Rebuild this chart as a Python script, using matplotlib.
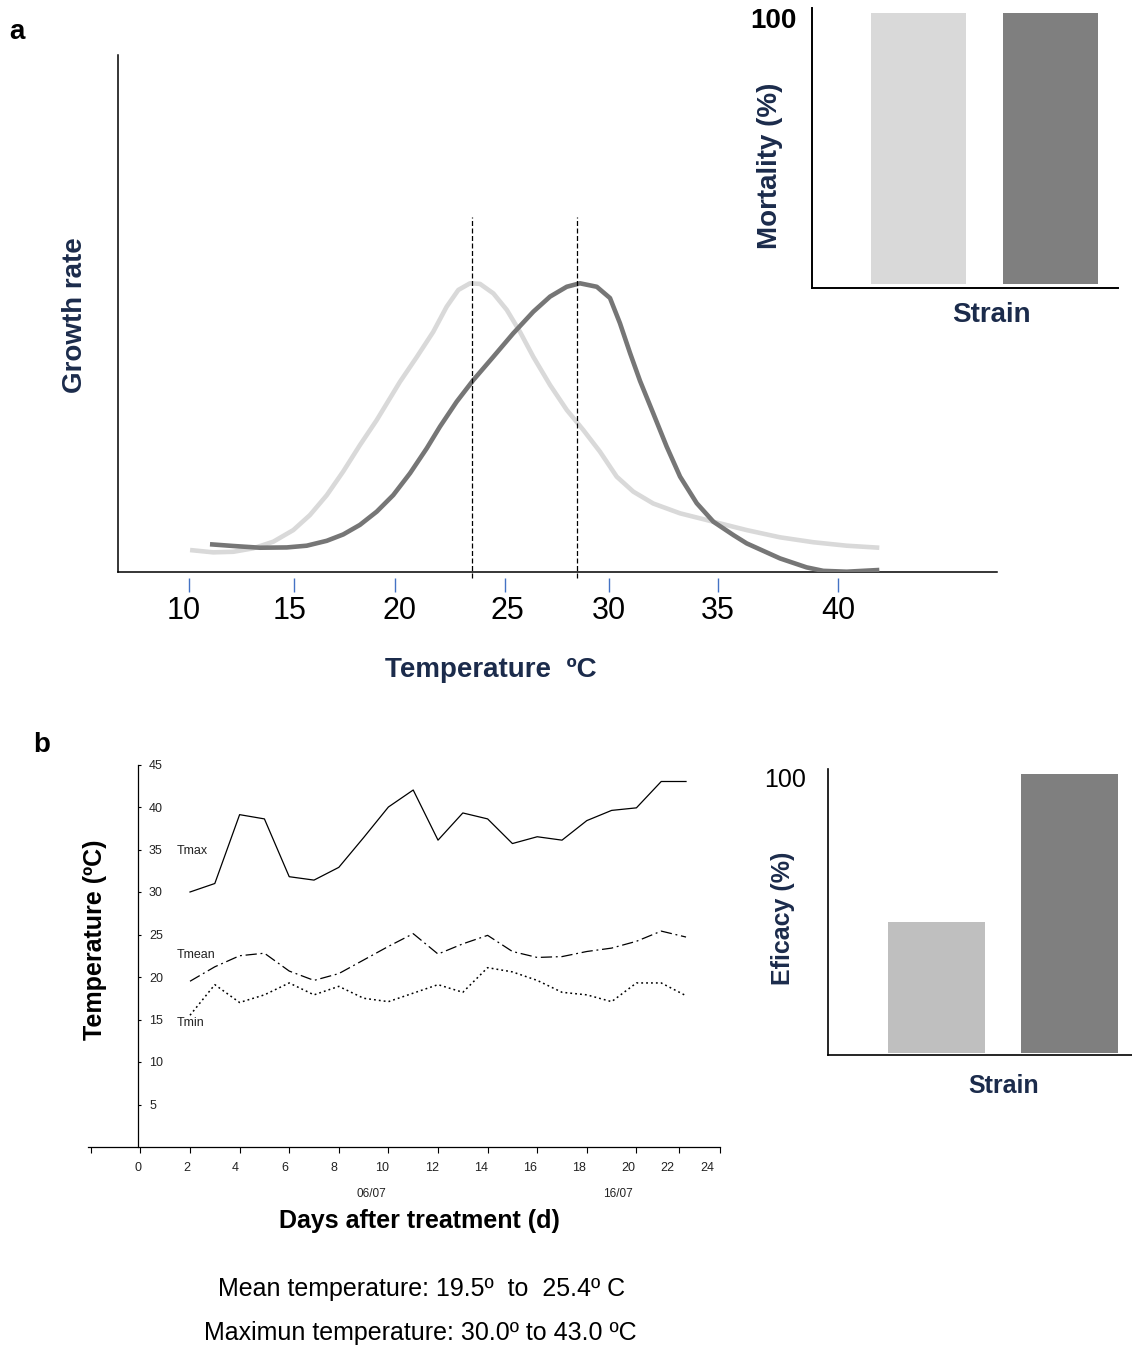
import matplotlib
matplotlib.use('Agg')
import matplotlib.pyplot as plt
import matplotlib.transforms as mtransforms

W, H = 1132, 1346
NAVY = '#1b2b4b'
plt.rcParams['font.family'] = ['Liberation Sans', 'DejaVu Sans']

# ---------------- Panel a: growth rate vs temperature ----------------
temp_light = [10.05, 11.12, 12.05, 12.97, 13.90, 14.82, 15.59, 16.37, 17.13, 17.90,
              18.68, 19.75, 20.53, 21.29, 21.91, 22.45, 22.99, 23.45, 24.07, 24.69,
              25.30, 25.92, 26.69, 27.46, 28.23, 29.00, 29.77, 30.54, 31.46, 32.70,
              34.24, 35.78, 37.32, 38.86, 40.40, 41.91]
growth_light = [0.076, 0.068, 0.070, 0.082, 0.105, 0.145, 0.197, 0.266, 0.348, 0.439,
                0.526, 0.658, 0.744, 0.831, 0.918, 0.976, 0.999, 0.997, 0.964, 0.907,
                0.831, 0.744, 0.647, 0.561, 0.491, 0.416, 0.330, 0.278, 0.237, 0.203,
                0.174, 0.145, 0.120, 0.103, 0.091, 0.084]
temp_dark = [10.97, 12.05, 13.28, 14.52, 15.44, 16.37, 17.13, 17.90, 18.68, 19.44,
             20.22, 20.99, 21.60, 22.37, 23.14, 24.07, 24.99, 25.92, 26.69, 27.46,
             28.07, 28.85, 29.46, 29.92, 30.39, 30.85, 31.46, 32.08, 32.70, 33.47,
             34.24, 35.16, 35.78, 37.32, 38.55, 39.32, 40.40, 41.91]
growth_dark = [0.096, 0.090, 0.084, 0.085, 0.091, 0.108, 0.130, 0.163, 0.209, 0.266,
               0.342, 0.428, 0.503, 0.589, 0.664, 0.745, 0.826, 0.901, 0.953, 0.987,
               0.999, 0.987, 0.948, 0.861, 0.757, 0.661, 0.549, 0.434, 0.330, 0.238,
               0.174, 0.128, 0.099, 0.047, 0.016, 0.004, 0.001, 0.007]
optimum_temps = [23.1, 27.95]
a_tick_pos = [10.0, 14.85, 19.52, 24.61, 29.42, 34.45, 40.0]
a_label_pos = [9.77, 14.67, 19.75, 24.70, 29.42, 34.45, 40.0]
a_tick_labels = ['10', '15', '20', '25', '30', '35', '40']

# Mortality / efficacy bars
strains = ['Strain A', 'Strain B']
mortality = [100, 100]
efficacy = [47, 100]

# ---------------- Panel b: temperatures ----------------
days = list(range(2, 23))
tmax = [30.0, 31.0, 39.1, 38.6, 31.8, 31.4, 32.9, 36.4, 40.0, 42.0, 36.1,
        39.3, 38.6, 35.7, 36.5, 36.1, 38.4, 39.6, 39.9, 43.0, 43.0]
tmean = [19.5, 21.2, 22.5, 22.8, 20.7, 19.6, 20.4, 22.0, 23.6, 25.1, 22.7,
         23.9, 24.9, 23.0, 22.3, 22.4, 23.0, 23.4, 24.2, 25.4, 24.7]
tmin = [15.5, 19.1, 17.0, 17.9, 19.3, 17.9, 18.9, 17.5, 17.1, 18.1, 19.1,
        18.2, 21.1, 20.6, 19.6, 18.2, 17.9, 17.1, 19.3, 19.3, 17.8]
b_tick_marks = [-2, 0, 2, 4, 6, 8, 10, 12, 14, 16, 18, 20, 21.7, 23.35]
b_label_pos = [-0.11, 1.87, 3.81, 5.83, 7.81, 9.73, 11.76, 13.73, 15.71, 17.69, 19.66, 21.23, 22.85]
b_labels = ['0', '2', '4', '6', '8', '10', '12', '14', '16', '18', '20', '22', '24']
b_yticks = [5, 10, 15, 20, 25, 30, 35, 40, 45]
date_pos = [9.30, 19.26]
date_labels = ['06/07', '16/07']

fig = plt.figure(figsize=(W / 100, H / 100), dpi=100)


def add_ax(l, t, r, b):
    return fig.add_axes([l / W, 1 - b / H, (r - l) / W, (b - t) / H])


def ftext(x, y, s, **kw):
    fig.text(x / W, 1 - y / H, s, ha='center', va='center', **kw)


# ---- panel a main ----
ax = add_ax(118, 55, 997, 572)
ax.set_xlim(6.718, 47.35)
ax.set_ylim(0, 1.789)
ax.plot(temp_light, growth_light, color='#d9d9d9', lw=3.3, zorder=2,
        solid_joinstyle='round', solid_capstyle='butt')
ax.plot(temp_dark, growth_dark, color='#767676', lw=3.3, zorder=3,
        solid_joinstyle='round', solid_capstyle='butt')
for t in optimum_temps:
    ax.plot([t, t], [-0.02, 1.23], color='black', lw=0.9, ls=(0, (4, 2)),
            clip_on=False, zorder=4)
for s in ['top', 'right']:
    ax.spines[s].set_visible(False)
for s in ['left', 'bottom']:
    ax.spines[s].set_linewidth(1.1)
ax.set_xticks([])
ax.set_yticks([])
trans = mtransforms.blended_transform_factory(ax.transData, ax.transAxes)
ax.vlines(a_tick_pos, -20 / 517, -6 / 517, transform=trans, colors='#4472c4',
          lw=1.0, clip_on=False)
for t, lab in zip(a_label_pos, a_tick_labels):
    ax.text(t, -39 / 517, lab, transform=trans, ha='center', va='center',
            fontsize=22, family=['Liberation Sans Narrow', 'Liberation Sans', 'DejaVu Sans'])
ftext(75, 315, 'Growth rate', rotation=90, fontsize=20, fontweight='bold', color=NAVY)
ftext(491, 670, 'Temperature  ºC', fontsize=20, fontweight='bold', color=NAVY)
ftext(17, 32, 'a', fontsize=20, fontweight='bold')

# ---- mortality inset ----
axm = add_ax(812, 8, 1118, 288)
axm.set_xlim(-0.807, 1.511)
axm.set_ylim(-1.5, 101.8)
axm.bar([0, 1], mortality, width=0.72, color=['#d9d9d9', '#7f7f7f'])
for s in ['top', 'right']:
    axm.spines[s].set_visible(False)
for s in ['left', 'bottom']:
    axm.spines[s].set_linewidth(1.4)
axm.set_xticks([])
axm.set_yticks([])
axm.annotate('100', xy=(0, 100), xycoords=('axes fraction', 'data'),
             xytext=(-15, -8), textcoords='offset pixels', ha='right', va='center',
             fontsize=20, fontweight='bold', annotation_clip=False)
ftext(770, 166, 'Mortality (%)', rotation=90, fontsize=20, fontweight='bold', color=NAVY)
ftext(991, 315, 'Strain', fontsize=20, fontweight='bold', color=NAVY)

# ---- panel b temperatures ----
axb = add_ax(88, 764.5, 720, 1147)
axb.set_xlim(-2.113, 23.37)
axb.set_ylim(0, 45)
axb.plot(days, tmax, color='black', lw=0.9)
axb.plot(days, tmean, color='black', lw=0.9, ls=(0, (9, 3, 1.5, 3)))
axb.plot(days, tmin, color='black', lw=1.1, ls=(0, (1.2, 2)))
for s in ['top', 'right']:
    axb.spines[s].set_visible(False)
axb.spines['left'].set_position(('data', -0.1))
for s in ['left', 'bottom']:
    axb.spines[s].set_linewidth(0.9)
axb.set_yticks(b_yticks)
axb.set_yticklabels([str(v) for v in b_yticks], fontsize=9, color='#222222')
axb.tick_params(axis='y', direction='in', length=2.5, width=0.8, pad=-8)
for lab in axb.get_yticklabels():
    lab.set_horizontalalignment('left')
axb.set_xticks(b_label_pos)
axb.set_xticklabels(b_labels, fontsize=9, color='#222222')
axb.tick_params(axis='x', which='major', length=0, pad=11)
axb.set_xticks(b_tick_marks, minor=True)
axb.tick_params(axis='x', which='minor', direction='out', length=4.3, width=0.8)
axb.text(1.45, 34.8, 'Tmax', fontsize=9, ha='left', va='center', color='#222222')
axb.text(1.45, 22.6, 'Tmean', fontsize=9, ha='left', va='center', color='#222222')
axb.text(1.45, 14.6, 'Tmin', fontsize=9, ha='left', va='center', color='#222222')
for p, lab in zip(date_pos, date_labels):
    axb.annotate(lab, xy=(p, 0), xycoords=('data', 'axes fraction'),
                 xytext=(0, -47), textcoords='offset pixels',
                 ha='center', va='center', fontsize=8.5, color='#222222')
ftext(95, 940, 'Temperature (ºC)', rotation=90, fontsize=18, fontweight='bold')
ftext(419, 1221, 'Days after treatment (d)', fontsize=18, fontweight='bold')
ftext(42, 745, 'b', fontsize=20, fontweight='bold')
ftext(422, 1289, 'Mean temperature: 19.5º  to  25.4º C', fontsize=18)
ftext(420, 1333, 'Maximun temperature: 30.0º to 43.0 ºC', fontsize=18)

# ---- efficacy bars ----
axe = add_ax(828, 769, 1132, 1055)
axe.set_xlim(-0.816, 1.47)
axe.set_ylim(-0.72, 101.8)
axe.bar([0, 1], efficacy, width=0.73, color=['#bfbfbf', '#7f7f7f'])
for s in ['top', 'right']:
    axe.spines[s].set_visible(False)
for s in ['left', 'bottom']:
    axe.spines[s].set_linewidth(1.2)
axe.set_xticks([])
axe.set_yticks([])
axe.annotate('100', xy=(0, 100), xycoords=('axes fraction', 'data'),
             xytext=(-22, -6), textcoords='offset pixels', ha='right', va='center',
             fontsize=18, annotation_clip=False)
ftext(783, 918, 'Eficacy (%)', rotation=90, fontsize=18, fontweight='bold', color=NAVY)
ftext(1004, 1086, 'Strain', fontsize=18, fontweight='bold', color=NAVY)

fig.savefig('out.png', dpi=100)
